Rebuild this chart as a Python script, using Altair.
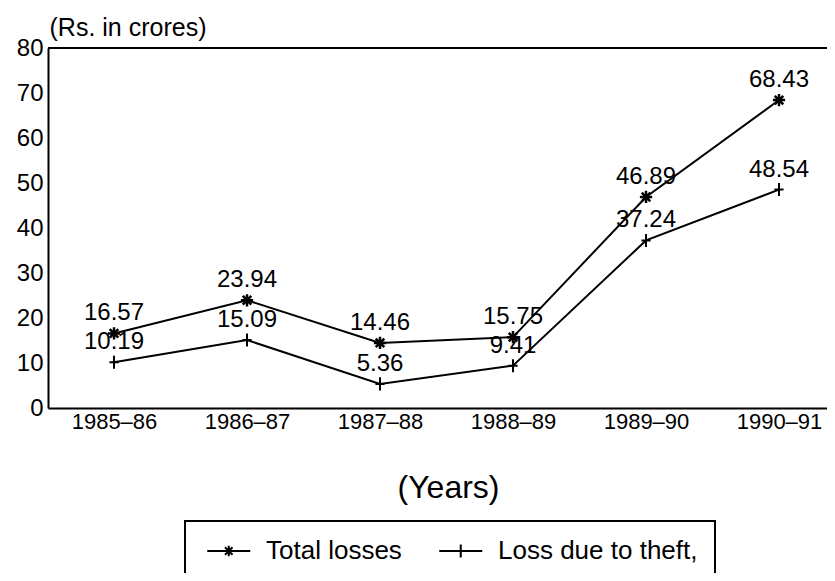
import altair as alt
import pandas as pd

years = ["1985–86", "1986–87", "1987–88", "1988–89", "1989–90", "1990–91"]
total_losses = [16.57, 23.94, 14.46, 15.75, 46.89, 68.43]
theft_losses = [10.19, 15.09, 5.36, 9.41, 37.24, 48.54]
series_names = ["Total losses", "Loss due to theft,"]
y_ticks = [0, 10, 20, 30, 40, 50, 60, 70, 80]

rows = []
for yr, a, b in zip(years, total_losses, theft_losses):
    rows.append({"year": yr, "series": series_names[0], "value": a})
    rows.append({"year": yr, "series": series_names[1], "value": b})
df = pd.DataFrame(rows)

FONT = "Liberation Sans"
W, H = 779, 360

STAR = "M-1,0L1,0M0,-1L0,1M-0.7,-0.7L0.7,0.7M-0.7,0.7L0.7,-0.7"
PLUS = "M-0.7,0L0.7,0M0,-1L0,1"
# legend symbols: long horizontal stroke with the marker in its middle
LEG_STAR = ("M-0.72,0L3.28,0M1.28,-0.5L1.28,0.5M0.78,0L1.78,0"
            "M0.93,-0.35L1.63,0.35M0.93,0.35L1.63,-0.35")
LEG_PLUS = "M-0.72,0L3.28,0M1.28,-0.6L1.28,0.6"

x_enc = alt.X(
    "year:N",
    sort=years,
    scale=alt.Scale(type="point", padding=0.4286, align=0.579),
    axis=alt.Axis(
        title="(Years)", labelFontSize=22, labelPadding=3, ticks=False,
        domainColor="black", domainWidth=2, labelColor="black", labelAngle=0,
        titleFontSize=32, titleFontWeight="normal", titleX=400, titleY=79,
        titleBaseline="middle", grid=False,
    ),
)
y_enc = alt.Y(
    "value:Q",
    scale=alt.Scale(domain=[0, 80], nice=False),
    axis=alt.Axis(
        values=y_ticks, title="(Rs. in crores)", titleAngle=0, titleX=1, titleY=-21,
        titleAlign="left", titleBaseline="middle", titleFontSize=25,
        titleFontWeight="normal", labelFontSize=24, labelPadding=5, ticks=False,
        grid=False, domainColor="black", domainWidth=2,
    ),
)

base = alt.Chart(df)

lines = base.mark_line(color="black", strokeWidth=2).encode(
    x=x_enc, y=y_enc, detail="series:N"
)

pts_total = base.transform_filter(alt.datum.series == series_names[0]).mark_point(
    shape=STAR, size=150, filled=False, color="black", strokeWidth=2.5, opacity=1
).encode(x=x_enc, y=y_enc)

pts_theft = base.transform_filter(alt.datum.series == series_names[1]).mark_point(
    shape=PLUS, size=170, filled=False, color="black", strokeWidth=2, opacity=1
).encode(x=x_enc, y=y_enc)

labels = base.mark_text(
    dy=-20, fontSize=24, font=FONT, color="black", baseline="middle"
).encode(x=x_enc, y=y_enc, text=alt.Text("value:Q", format=".2f"))

top_rule = alt.Chart(alt.Data(values=[{}])).mark_rule(
    color="black", strokeWidth=2
).encode(y=alt.datum(80))

legend_layer = base.transform_filter("false").mark_point(
    filled=False, color="black", strokeWidth=2, opacity=1
).encode(
    x=x_enc, y=y_enc,
    shape=alt.Shape(
        "series:N",
        scale=alt.Scale(domain=series_names, range=[LEG_STAR, LEG_PLUS]),
        legend=alt.Legend(
            title=None, orient="none", legendX=137, legendY=473,
            direction="horizontal", labelFontSize=26, labelFont=FONT,
            labelColor="black", labelLimit=500, symbolSize=462,
            symbolStrokeWidth=2, symbolStrokeColor="black",
            symbolFillColor="transparent", labelOffset=38,
            columnPadding=32, padding=17,
            strokeColor="black", fillColor="white", symbolOpacity=1,
        ),
    ),
)

chart = alt.layer(top_rule, lines, pts_total, pts_theft, labels, legend_layer).properties(
    width=W, height=H,
    autosize=alt.AutoSizeParams(type="none"),
    padding={"left": 40, "top": 40, "right": 0, "bottom": 165},
    background="white",
).configure_view(stroke=None).configure_axis(
    labelFont=FONT, titleFont=FONT, labelColor="black", titleColor="black"
).configure_legend(strokeWidth=2, cornerRadius=0)

chart.save("out.html", embed_options={"renderer": "svg", "actions": False})
